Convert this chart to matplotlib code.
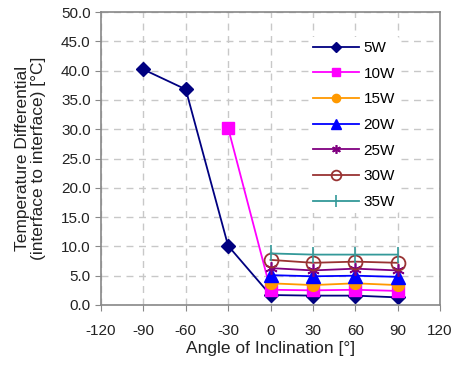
import matplotlib
matplotlib.use("Agg")
import matplotlib.pyplot as plt

plt.rcParams['font.family'] = ['Liberation Sans', 'DejaVu Sans']

angles_5w = [-90, -60, -30, 0, 30, 60, 90]
w5 = [40.2, 36.8, 10.1, 1.7, 1.6, 1.6, 1.3]
angles_10w = [-30, 0, 30, 60, 90]
w10 = [30.2, 2.6, 2.5, 2.6, 2.4]
angles = [0, 30, 60, 90]
w15 = [3.7, 3.4, 3.7, 3.4]
w20 = [5.1, 4.9, 5.0, 4.8]
w25 = [6.3, 5.9, 6.2, 5.9]
w30 = [7.7, 7.2, 7.4, 7.2]
w35 = [8.8, 8.6, 8.6, 8.6]

labels = ['5W', '10W', '15W', '20W', '25W', '30W', '35W']
xticks = [-120, -90, -60, -30, 0, 30, 60, 90, 120]
yticks = [0, 5, 10, 15, 20, 25, 30, 35, 40, 45, 50]

fig = plt.figure(figsize=(4.59, 3.67), dpi=100)
ax = fig.add_axes([101/459, 1-305/367, (440-101)/459, (305-12)/367])

series = [
    (angles_5w, w5, dict(color='#000080', marker='D', ms=7.5, mfc='#000080', mec='#000080')),
    (angles_10w, w10, dict(color='#FF00FF', marker='s', ms=8.5, mfc='#FF00FF', mec='#FF00FF')),
    (angles, w15, dict(color='#FF9900', marker='o', ms=8.5, mfc='#FF9900', mec='#FF9900')),
    (angles, w20, dict(color='#0000FF', marker='^', ms=9.5, mfc='#0000FF', mec='#0000FF')),
    (angles, w25, dict(color='#800080', marker=(6, 2, 0), ms=9, mew=1.2, mec='#800080')),
    (angles, w30, dict(color='#993333', marker='o', ms=10, mfc='none', mec='#993333', mew=1.3)),
    (angles, w35, dict(color='#339999', marker='|', ms=12, mew=1.2, mec='#339999')),
]
for (x, y, st), lab in zip(series, labels):
    ax.plot(x, y, lw=1.3, label=lab, **st)

ax.set_xlim(-120, 120)
ax.set_ylim(0, 50)
ax.set_xticks(xticks)
ax.set_yticks(yticks)
ax.set_xticklabels([str(v) for v in xticks])
ax.set_yticklabels([f"{v:.1f}" for v in yticks])
ax.tick_params(labelsize=11, colors='#222222', length=4, color='#888888')
ax.tick_params(axis='x', pad=10)
ax.grid(True, ls=(0, (5, 4)), color='#c8c8c8', lw=1)
ax.set_axisbelow(True)
for s in ax.spines.values():
    s.set_color('#888888')
    s.set_linewidth(1.2)

ax.set_xlabel('Angle of Inclination [°]', fontsize=12.5, color='#222222', labelpad=2)
ax.set_ylabel('Temperature Differential\n(interface to interface) [°C]', fontsize=12.5,
              color='#222222', labelpad=11, linespacing=1.05)

leg = ax.legend(loc='upper left', bbox_to_anchor=(200/339, 1-17/293), frameon=True,
                fontsize=11, handlelength=3.0, labelspacing=0.76, borderpad=0.3,
                handletextpad=0.3, markerscale=0.7)
leg.get_frame().set_edgecolor('none')
leg.get_frame().set_facecolor('white')
leg.get_frame().set_alpha(1)

fig.savefig('out.png', dpi=100)
